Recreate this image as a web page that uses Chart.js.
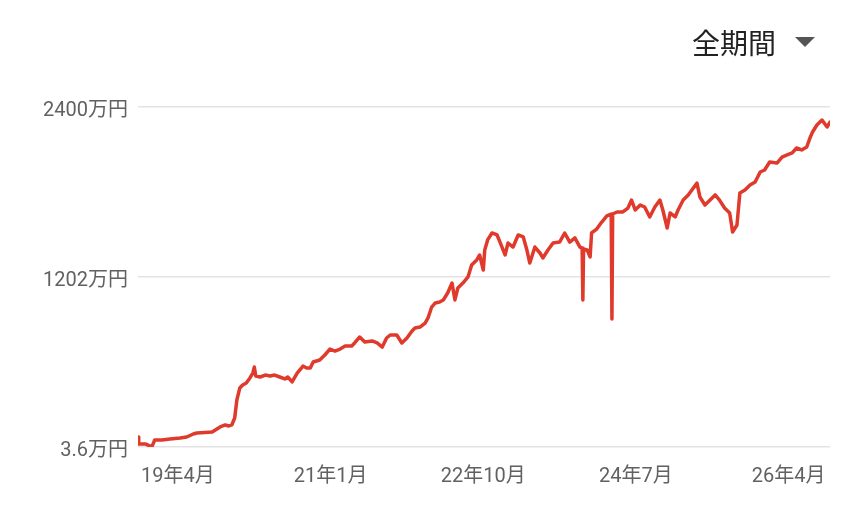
<!DOCTYPE html>
<html>
<head>
<meta charset="utf-8">
<script src="https://cdn.jsdelivr.net/npm/chart.js@4/dist/chart.umd.min.js"></script>
<style>
  html, body { margin: 0; padding: 0; background: #fff; }
  #wrap { position: relative; width: 864px; height: 531px; }
  #title { position: absolute; left: 692px; top: 23px; font-family: "Noto Sans CJK JP", sans-serif; font-size: 28px; color: #222; line-height: 38px; }
  #tri { position: absolute; left: 795px; top: 37px; width: 0; height: 0; border-left: 10px solid transparent; border-right: 10px solid transparent; border-top: 10px solid #555; }
</style>
</head>
<body>
<div id="wrap">
  <canvas id="c" width="864" height="531"></canvas>
  <div id="title">全期間</div>
  <div id="tri"></div>
</div>
<script>
// months counted from 2019年4月 (0 = 2019-04)
const months = [-5.5,-5.4,-4.5,-3.9,-3.6,-3.2,-2.2,-1.1,0.3,1.2,2.1,2.6,3.7,4.7,5.8,6.5,7.0,7.4,7.8,8.1,8.5,8.9,9.4,9.9,10.3,10.5,10.7,11.3,12.0,12.7,13.3,14.0,14.7,15.1,15.7,16.4,17.2,17.7,18.2,18.6,19.5,20.2,20.9,21.6,22.3,23.0,23.9,24.3,25.0,25.7,26.7,27.4,28.1,28.7,29.2,30.1,30.8,31.5,32.2,32.6,33.3,34.0,34.4,34.9,35.4,36.0,36.5,37.1,37.7,38.1,38.5,39.2,39.9,40.4,41.1,41.5,42.0,42.2,42.6,43.2,43.9,44.3,45.0,45.4,46.1,46.8,47.5,48.0,48.4,49.1,49.8,50.2,50.9,51.6,52.5,53.2,53.9,54.6,55.3,55.6,55.7,55.8,56.3,56.7,56.9,57.6,58.3,59.0,59.6,59.7,59.8,60.4,61.2,61.9,62.4,62.9,63.6,64.2,64.9,65.6,66.3,66.7,67.3,67.7,68.4,68.8,69.5,70.2,70.7,71.4,71.8,72.5,73.2,73.9,74.5,75.2,75.9,76.3,76.9,77.3,78.0,78.7,79.4,80.1,80.7,81.4,82.4,83.1,83.8,84.5,85.1,85.8,86.5,87.0,87.3,87.9,88.6,89.3,89.7];
// 評価額 (万円)
const values = [74,25,25,11,4,53,53,60,67,74,95,102,106,109,145,159,152,159,208,335,419,441,455,490,525,567,504,497,511,504,511,497,483,497,462,525,574,560,560,603,617,652,694,680,694,715,715,737,779,744,751,737,708,772,793,793,737,772,821,842,849,877,913,990,1019,1026,1040,1089,1159,1040,1124,1159,1202,1286,1322,1357,1251,1392,1463,1512,1498,1448,1357,1441,1413,1498,1484,1392,1300,1413,1371,1336,1392,1441,1448,1512,1448,1477,1413,1406,1040,1399,1392,1343,1512,1540,1589,1632,1646,906,1646,1660,1660,1688,1744,1674,1709,1695,1625,1695,1744,1674,1547,1653,1625,1674,1744,1780,1815,1864,1766,1709,1744,1780,1744,1688,1653,1519,1568,1794,1815,1850,1871,1942,1956,2012,2005,2047,2062,2076,2111,2097,2118,2189,2224,2273,2308,2259,2294];

const yTickValues = [3.6, 1201.8, 2400];
const yTickLabels = ['3.6万円', '1202万円', '2400万円'];
const xTickValues = [0, 21, 42, 63, 84];
const xTickLabels = ['19年4月', '21年1月', '22年10月', '24年7月', '26年4月'];

const pts = months.map((m, i) => ({ x: m, y: values[i] }));
const FONT = 'Roboto, "Noto Sans CJK JP", sans-serif';

new Chart(document.getElementById('c'), {
  type: 'line',
  data: { datasets: [{
    data: pts,
    borderColor: '#df3a2b',
    borderWidth: 3.5,
    pointRadius: 0,
    tension: 0,
    borderJoinStyle: 'round',
    borderCapStyle: 'round',
    fill: false
  }]},
  options: {
    responsive: false,
    animation: false,
    events: [],
    layout: { padding: { top: 107, right: 34, left: 0, bottom: 0 } },
    plugins: { legend: { display: false }, tooltip: { enabled: false } },
    scales: {
      x: {
        type: 'linear',
        min: -5.5,
        max: 89.7,
        afterBuildTicks: s => { s.ticks = xTickValues.map(v => ({ value: v })); },
        afterFit: s => { s.height = 84; },
        grid: { display: false, drawTicks: false },
        border: { display: false },
        ticks: {
          autoSkip: false, maxRotation: 0, padding: 18,
          color: '#616161',
          font: { family: FONT, size: 20 },
          callback: (v) => { const i = xTickValues.indexOf(v); return i >= 0 ? xTickLabels[i] : ''; }
        }
      },
      y: {
        type: 'linear',
        min: 3.6,
        max: 2400,
        afterBuildTicks: s => { s.ticks = yTickValues.map(v => ({ value: v })); },
        afterFit: s => { s.width = 138; },
        grid: { color: '#e3e3e3', lineWidth: 1.5, drawTicks: false },
        border: { display: false },
        ticks: {
          padding: 10,
          labelOffset: 4,
          color: '#616161',
          font: { family: FONT, size: 20 },
          callback: (v) => { const i = yTickValues.indexOf(v); return i >= 0 ? yTickLabels[i] : ''; }
        }
      }
    }
  }
});
</script>
</body>
</html>
